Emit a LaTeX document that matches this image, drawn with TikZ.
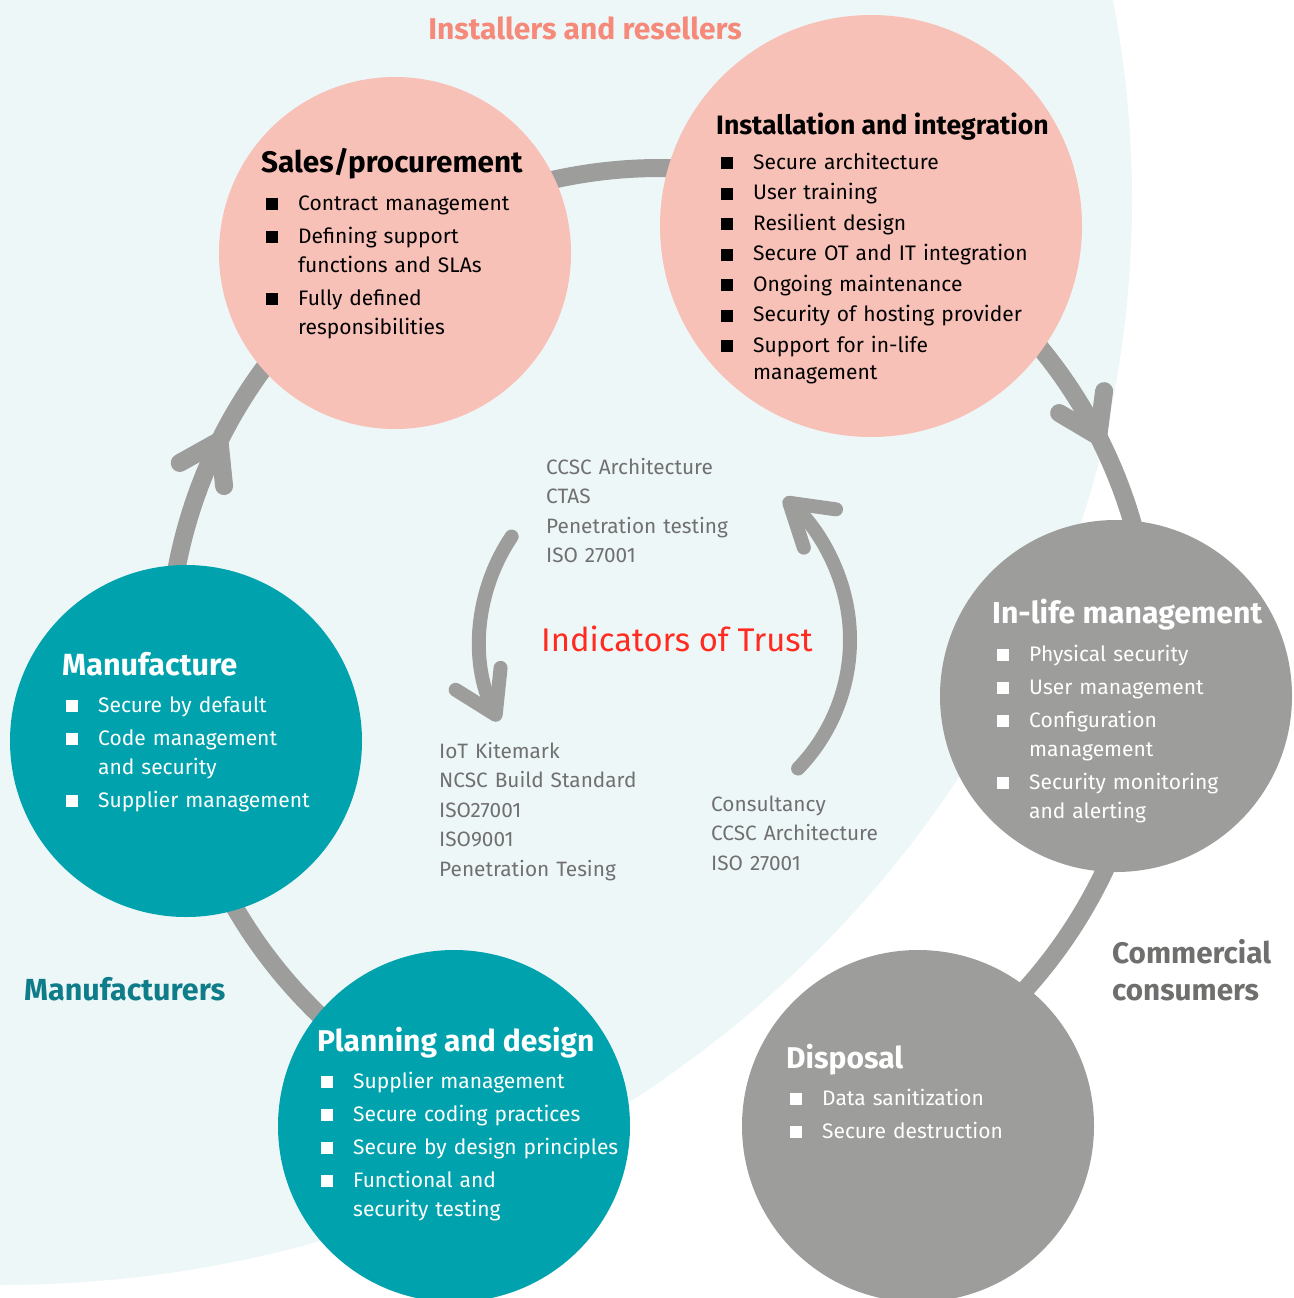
\documentclass[tikz,border=0pt]{standalone}
\usepackage{fontspec}
\setmainfont{Fira Sans}
\usetikzlibrary{arrows.meta,decorations.markings}

\definecolor{bgcyan}{HTML}{EEF7F8}
\definecolor{pinkfill}{HTML}{F8C1B8}
\definecolor{tealfill}{HTML}{00A3AD}
\definecolor{graycirc}{HTML}{9D9D9C}
\definecolor{ringgray}{HTML}{9D9D9C}
\definecolor{salmontext}{HTML}{F58A7B}
\definecolor{tealtext}{HTML}{0E7D89}
\definecolor{consumergray}{HTML}{6F6F6E}
\definecolor{trustred}{HTML}{FF2B21}
\definecolor{trustgray}{HTML}{707070}

% bullet square and indent for wrapped lines
\newcommand{\blt}{\makebox[32pt][l]{\rule{12pt}{12pt}}}
\newcommand{\cont}{\hspace*{32pt}}

\begin{document}
\begin{tikzpicture}[
    x=1pt, y=1pt,
    stage/.style={circle, minimum size=352pt, inner sep=0pt},
    head/.style={anchor=base west, inner sep=0pt, font=\fontsize{30}{34}\selectfont\bfseries},
    items/.style={anchor=base west, inner sep=0pt, align=left, text width=340pt, font=\fontsize{21}{29}\selectfont},
    certs/.style={anchor=base west, inner sep=0pt, align=left, text width=260pt, text=trustgray, font=\fontsize{20.8}{29.5}\selectfont},
    group/.style={anchor=base west, inner sep=0pt, align=left, font=\fontsize{30.5}{37}\selectfont\bfseries},
    ring/.style={draw=ringgray, line width=18pt},
    midarrow/.style={postaction={decorate, decoration={markings,
        mark=at position #1 with {\arrow{Straight Barb[round, length=38pt, width=50pt]}}}}},
    trustarrow/.style={draw=ringgray, line width=14pt, line cap=round,
        -{Straight Barb[round, length=40pt, width=50pt]}}
]
    \useasboundingbox (0,0) rectangle (1293,-1298);

    % Background
    \fill[white] (0,0) rectangle (1293,-1298);
    \begin{scope}
        \clip (0,0) rectangle (1293,-1298);
        \fill[bgcyan] (0,-200) ellipse [x radius=1132, y radius=1085];
    \end{scope}

    % Lifecycle ring
    \coordinate (hub) at (660,-660);
    \draw[ring, midarrow=0.45] (hub) ++(175:492) arc[start angle=175, end angle=125, radius=492];
    \draw[ring] (hub) ++(115:492) arc[start angle=115, end angle=80, radius=492];
    \draw[ring, midarrow=0.6] (hub) ++(50:492) arc[start angle=50, end angle=10, radius=492];
    \draw[ring] (hub) ++(-15:492) arc[start angle=-15, end angle=-50, radius=492];
    \draw[ring] (hub) ++(195:492) arc[start angle=195, end angle=235, radius=492];

    % Stages
    \node[stage, fill=pinkfill] (sales) at (395,-253) {};
    \node[stage, fill=pinkfill, minimum size=422pt] (install) at (871,-226) {};
    \node[stage, fill=tealfill] (manu) at (186,-741) {};
    \node[stage, fill=tealfill] (plan) at (454,-1126) {};
    \node[stage, fill=graycirc] (inlife) at (1116,-696) {};
    \node[stage, fill=graycirc] (disposal) at (918,-1126) {};

    % Stage texts
    \node[head, font=\fontsize{29.7}{34}\selectfont\bfseries] (salesHead) at (261,-172) {Sales/procurement};
    \node[items] (salesList) at (266,-210) {
        \blt Contract management\\[4pt]
        \blt Defining support\\
        \cont functions and SLAs\\[4pt]
        \blt Fully defined\\
        \cont responsibilities
    };

    \node[head, font=\fontsize{26.6}{32}\selectfont\bfseries] (installHead) at (716,-134) {Installation and integration};
    \node[items, font=\fontsize{21}{27}\selectfont] (installList) at (721,-169) {
        \blt Secure architecture\\[3.5pt]
        \blt User training\\[3.5pt]
        \blt Resilient design\\[3.5pt]
        \blt Secure OT and IT integration\\[3.5pt]
        \blt Ongoing maintenance\\[3.5pt]
        \blt Security of hosting provider\\[3.5pt]
        \blt Support for in-life\\
        \cont management
    };

    \node[head, text=white, font=\fontsize{30.6}{34}\selectfont\bfseries] (manuHead) at (62,-675) {Manufacture};
    \node[items, text=white] (manuList) at (66,-712) {
        \blt Secure by default\\[4pt]
        \blt Code management\\
        \cont and security\\[4pt]
        \blt Supplier management
    };

    \node[head, text=white] (planHead) at (317,-1051) {Planning and design};
    \node[items, text=white] (planList) at (321,-1088) {
        \blt Supplier management\\[4pt]
        \blt Secure coding practices\\[4pt]
        \blt Secure by design principles\\[4pt]
        \blt Functional and\\
        \cont security testing
    };

    \node[head, text=white, font=\fontsize{30.2}{34}\selectfont\bfseries] (inlifeHead) at (992,-623) {In-life management};
    \node[items, text=white] (inlifeList) at (997,-661) {
        \blt Physical security\\[4pt]
        \blt User management\\[4pt]
        \blt Configuration\\
        \cont management\\[4pt]
        \blt Security monitoring\\
        \cont and alerting
    };

    \node[head, text=white] (disposalHead) at (786,-1068) {Disposal};
    \node[items, text=white] (disposalList) at (790,-1105) {
        \blt Data sanitization\\[4pt]
        \blt Secure destruction
    };

    % Groups
    \node[group, anchor=base, text=salmontext, font=\fontsize{30}{37}\selectfont\bfseries] (installers) at (585,-40) {Installers and resellers};
    \node[group, text=tealtext] (manufacturers) at (24,-1000) {Manufacturers};
    \node[group, text width=200pt, text=consumergray, font=\fontsize{29.7}{37}\selectfont\bfseries] (consumers) at (1112,-963) {Commercial\\consumers};

    % Indicators of trust
    \coordinate (trustHub) at (665,-640);
    \draw[trustarrow] (trustHub) ++(146:185) arc[start angle=146, end angle=206, radius=185];
    \draw[trustarrow] (trustHub) ++(-44:185) arc[start angle=-44, end angle=50, radius=185];

    \node[anchor=base west, inner sep=0pt, text=trustred, font=\fontsize{32.8}{40}\selectfont] (indicators) at (541,-651) {Indicators of Trust};
    \node[certs] (certInstall) at (546,-474) {CCSC Architecture\\CTAS\\Penetration testing\\ISO 27001};
    \node[certs] (certManu) at (439,-758) {IoT Kitemark\\NCSC Build Standard\\ISO27001\\ISO9001\\Penetration Tesing};
    \node[certs] (certUse) at (711,-811) {Consultancy\\CCSC Architecture\\ISO 27001};
\end{tikzpicture}
\end{document}
